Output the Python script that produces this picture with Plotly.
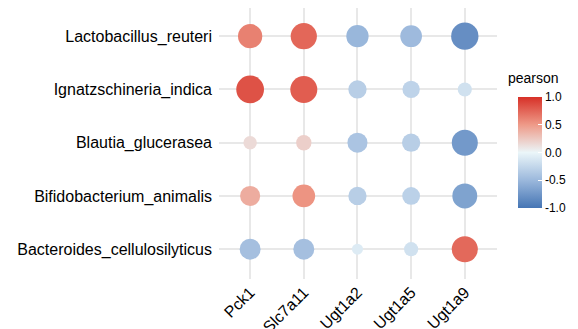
import plotly.graph_objects as go
import numpy as np

genes = ["Pck1", "Slc7a11", "Ugt1a2", "Ugt1a5", "Ugt1a9"]
bacteria = ["Lactobacillus_reuteri", "Ignatzschineria_indica", "Blautia_glucerasea",
            "Bifidobacterium_animalis", "Bacteroides_cellulosilyticus"]

r_lactobacillus = [0.62, 0.74, -0.51, -0.48, -0.81]
r_ignatzschineria = [0.84, 0.79, -0.32, -0.28, -0.17]
r_blautia = [0.15, 0.21, -0.40, -0.32, -0.73]
r_bifidobacterium = [0.40, 0.53, -0.32, -0.30, -0.66]
r_bacteroides = [-0.44, -0.44, -0.09, -0.17, 0.73]

rows = [r_lactobacillus, r_ignatzschineria, r_blautia, r_bifidobacterium, r_bacteroides]

xs, ys, vals = [], [], []
for b, row in zip(bacteria, rows):
    for g, v in zip(genes, row):
        xs.append(g)
        ys.append(b)
        vals.append(v)
vals = np.array(vals)
sizes = 3 + 27 * np.sqrt(np.abs(vals))

colorscale = [
    [0.0, "#4575B4"],
    [0.25, "#9BB8DC"],
    [0.5, "#EBF6F9"],
    [0.75, "#EE9A88"],
    [1.0, "#D73027"],
]

# page body has an 8px margin: figure pixel = screen pixel - 8
W, H = 570, 321
L, R, T, B = 211, 81, 0, 50
pw, ph = W - L - R, H - T - B

fig = go.Figure(go.Scatter(
    x=xs, y=ys, mode="markers",
    marker=dict(
        size=sizes, color=vals, colorscale=colorscale, cmin=-1, cmax=1,
        line=dict(width=0), opacity=1,
        colorbar=dict(
            x=(510 - L) / pw, xanchor="left", xref="paper",
            y=(H - B - 144.5) / ph, yanchor="middle",
            len=111, lenmode="pixels", thickness=24, thicknessmode="pixels",
            outlinewidth=0, xpad=0, ypad=0,
            tickvals=[-1, -0.5, 0, 0.5, 1],
            ticktext=["-1.0", "-0.5", "0.0", "0.5", "1.0"],
            ticks="inside", ticklen=4, tickcolor="white",
            tickfont=dict(size=12, color="#000"),
        ),
    ),
    hoverinfo="skip",
))

fig.add_annotation(
    text="pearson", xref="paper", yref="paper",
    x=(525 - L) / pw, y=(H - B - 70) / ph, xanchor="center", yanchor="middle",
    showarrow=False, font=dict(size=14, color="#000"),
)

fig.update_layout(
    width=W, height=H, autosize=False,
    margin=dict(l=L, r=R, t=T, b=B, autoexpand=False),
    plot_bgcolor="white", paper_bgcolor="white",
    font=dict(family="Liberation Sans, Arial, sans-serif", color="#000"),
    showlegend=False,
)
fig.update_xaxes(
    categoryorder="array", categoryarray=genes, range=[-0.58, 4.6],
    showgrid=True, gridcolor="#E8E8E8", gridwidth=1.5, zeroline=False, automargin=False,
    showline=False, ticks="", tickangle=-45, tickfont=dict(size=16, color="#000"),
)
fig.update_yaxes(
    categoryorder="array", categoryarray=bacteria, range=[4.56, -0.53],
    showgrid=True, gridcolor="#E8E8E8", gridwidth=1.5, zeroline=False, automargin=False,
    showline=False, ticks="", ticklabelstandoff=6, tickfont=dict(size=16, color="#000"),
)

fig.write_html("out.html")
